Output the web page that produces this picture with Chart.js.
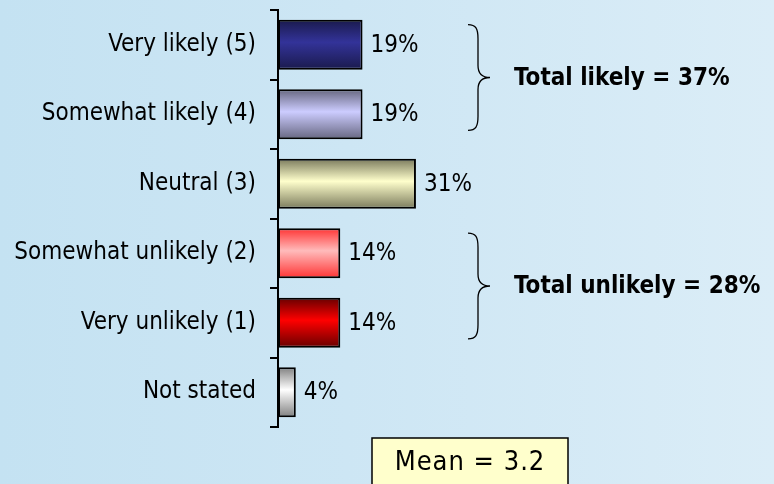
<!DOCTYPE html>
<html>
<head>
<meta charset="utf-8">
<script src="https://cdn.jsdelivr.net/npm/chart.js@4"></script>
<style>
    html, body { margin: 0; padding: 0; }
    body {
        width: 774px;
        height: 484px;
        overflow: hidden;
        background: linear-gradient(to right, #c4e2f2 0%, #cde6f4 45%, #dbedf7 100%);
    }
    #wrap { position: relative; width: 774px; height: 484px; }
</style>
</head>
<body>
<div id="wrap"><canvas id="likelyChart"></canvas></div>
<script>
const categories = ['Very likely (5)', 'Somewhat likely (4)', 'Neutral (3)', 'Somewhat unlikely (2)', 'Very unlikely (1)', 'Not stated'];
const percentages = [19, 19, 31, 14, 14, 4];
const edgeColors = ['#1a1a4c', '#66667f', '#7a7a5c', '#ff3333', '#660000', '#808080'];
const centerColors = ['#333399', '#ccccff', '#ffffcc', '#ffbbbb', '#ff0000', '#ffffff'];
const groupLabels = ['Total likely = 37%', 'Total unlikely = 28%'];
const groupRanges = [[0, 1], [3, 4]];
const meanLabel = 'Mean = 3.2';

const FONT = "'DejaVu Sans Condensed', 'DejaVu Sans', sans-serif";

function barGradient(context) {
    const chart = context.chart;
    const i = context.dataIndex;
    if (!chart.chartArea || !chart.scales.y) {
        return centerColors[i];
    }
    const yScale = chart.scales.y;
    const y = yScale.getPixelForValue(i);
    const half = (yScale.height / categories.length) * 0.72 / 2;
    const g = chart.ctx.createLinearGradient(0, y - half, 0, y + half);
    g.addColorStop(0, edgeColors[i]);
    g.addColorStop(0.45, centerColors[i]);
    g.addColorStop(1, edgeColors[i]);
    return g;
}

// value labels, brackets, totals and the mean box
const annotations = {
    id: 'annotations',
    afterDatasetsDraw(chart) {
        const ctx = chart.ctx;
        const yScale = chart.scales.y;
        const meta = chart.getDatasetMeta(0);

        ctx.save();
        ctx.fillStyle = '#000';
        ctx.font = '24px ' + FONT;
        ctx.textBaseline = 'middle';
        ctx.textAlign = 'left';
        meta.data.forEach((bar, i) => {
            ctx.fillText(percentages[i] + '%', bar.x + 8, bar.y + 1);
        });

        const band = yScale.height / categories.length;
        groupRanges.forEach((range, k) => {
            const mid = (yScale.getPixelForValue(range[0]) + yScale.getPixelForValue(range[1])) / 2 - 2;
            const top = mid - band * 0.76;
            const bottom = mid + band * 0.76;
            const xl = 468, xs = 478, xt = 490;
            ctx.beginPath();
            ctx.lineWidth = 1.3;
            ctx.strokeStyle = '#000';
            ctx.moveTo(xl, top);
            ctx.bezierCurveTo(476, top, xs, top + 4, xs, top + 14);
            ctx.lineTo(xs, mid - 12);
            ctx.bezierCurveTo(xs, mid - 4, 482, mid, xt, mid);
            ctx.bezierCurveTo(482, mid, xs, mid + 4, xs, mid + 12);
            ctx.lineTo(xs, bottom - 14);
            ctx.bezierCurveTo(xs, bottom - 4, 476, bottom, xl, bottom);
            ctx.stroke();

            ctx.font = 'bold 24px ' + FONT;
            ctx.fillText(groupLabels[k], 514, mid + 1);
        });

        // mean box
        ctx.fillStyle = '#ffffcc';
        ctx.fillRect(372, 438, 196, 60);
        ctx.lineWidth = 1.5;
        ctx.strokeStyle = '#000';
        ctx.strokeRect(372, 438, 196, 60);
        ctx.fillStyle = '#000';
        ctx.font = '27px ' + FONT;
        ctx.letterSpacing = '1px';
        ctx.textAlign = 'center';
        ctx.fillText(meanLabel, 470, 463);
        ctx.restore();
    }
};

function renderChart() {
    const ctx = document.getElementById('likelyChart').getContext('2d');
    new Chart(ctx, {
        type: 'bar',
        data: {
            labels: categories,
            datasets: [{
                data: percentages,
                backgroundColor: barGradient,
                borderColor: '#000',
                borderWidth: 2,
                borderSkipped: false,
                barPercentage: 0.72,
                categoryPercentage: 1
            }]
        },
        options: {
            indexAxis: 'y',
            responsive: true,
            maintainAspectRatio: false,
            animation: false,
            layout: {
                padding: { top: 10, bottom: 57, left: 0, right: 51 }
            },
            plugins: {
                legend: { display: false },
                tooltip: { enabled: false }
            },
            scales: {
                x: {
                    display: false,
                    min: 0,
                    max: 100
                },
                y: {
                    afterFit: scale => {
                        scale.width = 278;
                        scale.paddingTop = 0;
                        scale.paddingBottom = 0;
                    },
                    border: { display: true, color: '#000', width: 2 },
                    grid: {
                        drawOnChartArea: false,
                        drawTicks: true,
                        tickLength: 8,
                        color: '#000',
                        lineWidth: 2
                    },
                    ticks: {
                        color: '#000',
                        padding: 14,
                        font: { family: FONT, size: 24 }
                    }
                }
            }
        },
        plugins: [annotations]
    });
}

window.onload = renderChart;
</script>
</body>
</html>
